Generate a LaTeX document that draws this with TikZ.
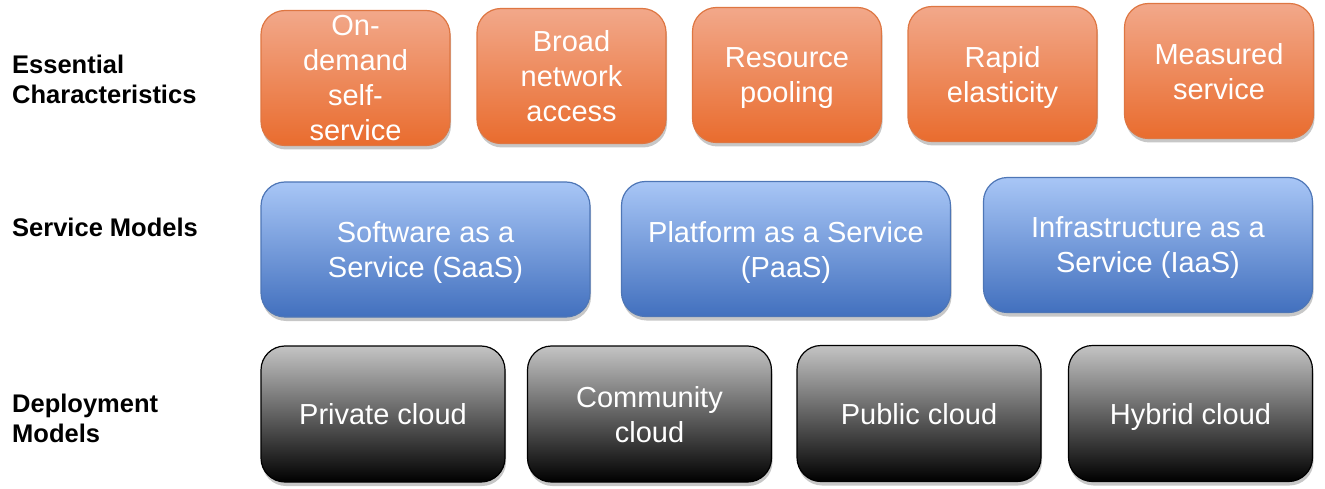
\documentclass[tikz,border=0pt]{standalone}
\usepackage{fontspec}
\setmainfont{Liberation Sans}
\usetikzlibrary{shadows}
\definecolor{orangetop}{RGB}{242,168,138}
\definecolor{orangebot}{RGB}{233,108,46}
\definecolor{orangeline}{RGB}{222,118,66}
\definecolor{bluetop}{RGB}{168,198,246}
\definecolor{bluebot}{RGB}{66,112,190}
\definecolor{blueline}{RGB}{78,118,182}
\definecolor{blacktop}{RGB}{196,196,196}
\definecolor{blackbot}{RGB}{0,0,0}
\begin{document}
\begin{tikzpicture}[x=1pt,y=-1pt,
    card/.style={rounded corners=24pt, line width=1.2pt, inner sep=0pt,
      align=center, text=white, text depth=0pt, font=\fontsize{29}{35}\selectfont,
      drop shadow={shadow xshift=1pt, shadow yshift=-4pt, fill=black, opacity=0.22}},
    charbox/.style={card, draw=orangeline, top color=orangetop, bottom color=orangebot,
      minimum width=189pt, minimum height=135pt},
    modelbox/.style={card, draw=blueline, top color=bluetop, bottom color=bluebot,
      minimum width=329pt, minimum height=135pt},
    deploybox/.style={card, draw=black, top color=blacktop, bottom color=blackbot,
      minimum width=244pt, minimum height=136pt},
    rowlabel/.style={anchor=west, align=left, inner sep=0pt,
      font=\fontsize{25.5}{30}\selectfont\bfseries}]
  \useasboundingbox (0,0) rectangle (1325,489);
  % row titles
  \node[rowlabel] (essential) at (12,79) {Essential\\Characteristics};
  \node[rowlabel] (service) at (12,227) {Service Models};
  \node[rowlabel] (deployment) at (12,418) {Deployment\\Models};
  % essential characteristics
  \node[charbox] (ondemand) at (355.5,78) {On-\\demand\\self-\\service};
  \node[charbox] (broad) at (571.5,76) {Broad\\network\\access};
  \node[charbox] (pooling) at (787,75) {Resource\\pooling};
  \node[charbox] (elastic) at (1002.5,74) {Rapid\\elasticity};
  \node[charbox] (measured) at (1219,71) {Measured\\service};
  % service models
  \node[modelbox] (saas) at (425.5,249.5) {Software as a\\Service (SaaS)};
  \node[modelbox] (paas) at (786,249) {Platform as a Service\\(PaaS)};
  \node[modelbox] (iaas) at (1148,245) {Infrastructure as a\\Service (IaaS)};
  % deployment models
  \node[deploybox] (private) at (383,414) {Private cloud};
  \node[deploybox] (community) at (649.5,414) {Community\\cloud};
  \node[deploybox] (public) at (919,413.5) {Public cloud};
  \node[deploybox] (hybrid) at (1190.5,413.5) {Hybrid cloud};
\end{tikzpicture}
\end{document}
